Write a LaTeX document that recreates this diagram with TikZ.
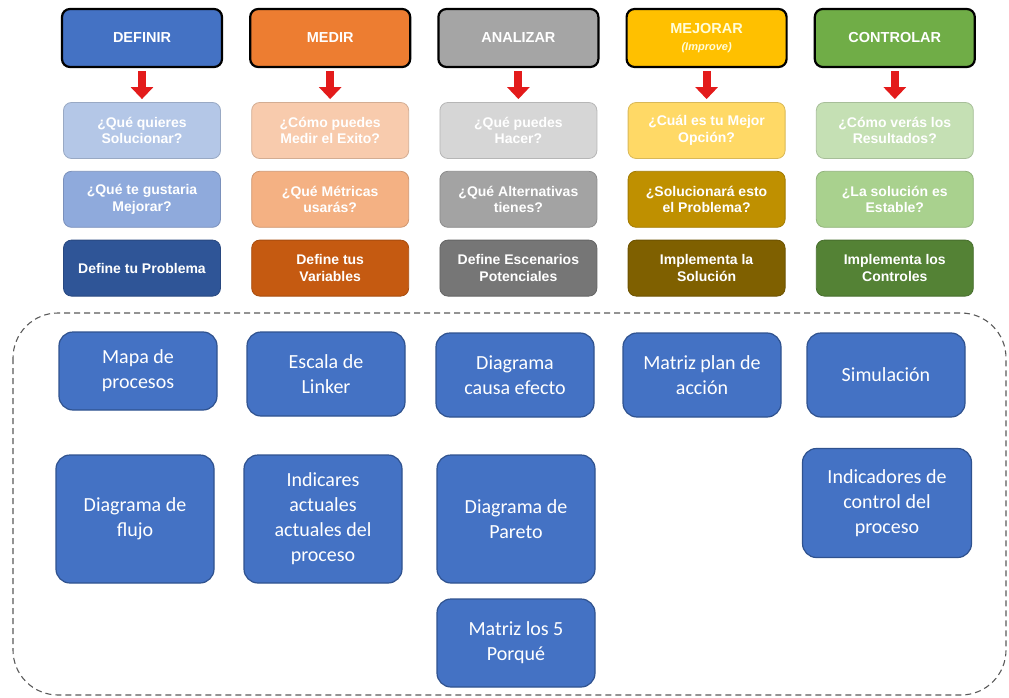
\documentclass[tikz,border=0pt]{standalone}
\usepackage{fontspec}
\setmainfont{Carlito}
\newfontfamily\arialfont{Liberation Sans}
\usetikzlibrary{arrows.meta, chains, positioning}

\definecolor{defblue}{HTML}{4472C4}
\definecolor{defq1}{HTML}{B4C7E7}
\definecolor{defq2}{HTML}{8FAADC}
\definecolor{defq3}{HTML}{2F5597}
\definecolor{medorange}{HTML}{ED7D31}
\definecolor{medq1}{HTML}{F8CBAD}
\definecolor{medq2}{HTML}{F4B183}
\definecolor{medq3}{HTML}{C55A11}
\definecolor{anagray}{HTML}{A5A5A5}
\definecolor{anaq1}{HTML}{D6D6D6}
\definecolor{anaq2}{HTML}{A3A3A3}
\definecolor{anaq3}{HTML}{767676}
\definecolor{mejgold}{HTML}{FFC000}
\definecolor{mejq1}{HTML}{FFD966}
\definecolor{mejq2}{HTML}{BF9000}
\definecolor{mejq3}{HTML}{7F6000}
\definecolor{congreen}{HTML}{70AD47}
\definecolor{conq1}{HTML}{C5E0B4}
\definecolor{conq2}{HTML}{A9D18E}
\definecolor{conq3}{HTML}{548235}
\definecolor{toolblue}{HTML}{4472C4}
\definecolor{tooledge}{HTML}{2F528F}
\definecolor{arrowred}{HTML}{E31B1B}

\tikzset{
  fase/.style = {draw=black, line width=2.2pt, rounded corners=8pt,
    minimum width=160pt, minimum height=58pt, inner sep=0pt,
    text=white, align=center,
    font=\arialfont\bfseries\fontsize{14.5}{18}\selectfont},
  pregunta/.style = {fill=#1, draw=#1!85!black, line width=0.8pt,
    rounded corners=8pt, minimum width=157pt, minimum height=56pt,
    inner sep=0pt, text=white, align=center,
    font=\arialfont\bfseries\fontsize{14}{16.5}\selectfont},
  flecha/.style = {draw=arrowred, line width=8pt,
    -{Triangle[width=22pt, length=12pt]},
    shorten <=3pt, shorten >=3pt},
  herramienta/.style = {fill=toolblue, draw=tooledge, line width=1.2pt,
    rounded corners=14pt, minimum width=158pt, minimum height=84pt,
    inner sep=0pt, text=white, align=center,
    font=\fontsize{20}{25}\selectfont},
  marco/.style = {draw=black!65, dash pattern=on 6pt off 4pt,
    line width=1.1pt, rounded corners=45pt}
}

\begin{document}
\begin{tikzpicture}[
   x=1pt, y=-1pt,
   start chain = going right,
   node distance = 26pt]
   \useasboundingbox (0,0) rectangle (1009,698);

   % fases
   \node[fase, fill=defblue, on chain] (definir) at (142,38) {DEFINIR};
   \node[fase, fill=medorange, on chain] (medir) {MEDIR};
   \node[fase, fill=anagray, on chain] (analizar) {ANALIZAR};
   \node[fase, fill=mejgold, text=white!85!yellow, on chain] (mejorar)
      {MEJORAR\\[-1pt]{\itshape\fontsize{11}{12}\selectfont(Improve)}};
   \node[fase, fill=congreen, on chain] (controlar) {CONTROLAR};

   % preguntas
   \node[pregunta=defq1, below=34pt of definir] (definir1) {¿Qué quieres\\Solucionar?};
   \node[pregunta=defq2, below=12pt of definir1] (definir2) {¿Qué te gustaria\\Mejorar?};
   \node[pregunta=defq3, below=12pt of definir2] (definir3) {Define tu Problema};

   \node[pregunta=medq1, below=34pt of medir] (medir1) {¿Cómo puedes\\Medir el Exito?};
   \node[pregunta=medq2, below=12pt of medir1] (medir2) {¿Qué Métricas\\usarás?};
   \node[pregunta=medq3, below=12pt of medir2] (medir3) {Define tus\\Variables};

   \node[pregunta=anaq1, below=34pt of analizar] (analizar1) {¿Qué puedes\\Hacer?};
   \node[pregunta=anaq2, below=12pt of analizar1] (analizar2) {¿Qué Alternativas\\tienes?};
   \node[pregunta=anaq3, below=12pt of analizar2] (analizar3) {Define Escenarios\\Potenciales};

   \node[pregunta=mejq1, below=34pt of mejorar] (mejorar1) {¿Cuál es tu Mejor\\Opción?};
   \node[pregunta=mejq2, below=12pt of mejorar1] (mejorar2) {¿Solucionará esto\\el Problema?};
   \node[pregunta=mejq3, below=12pt of mejorar2] (mejorar3) {Implementa la\\Solución};

   \node[pregunta=conq1, below=34pt of controlar] (controlar1) {¿Cómo verás los\\Resultados?};
   \node[pregunta=conq2, below=12pt of controlar1] (controlar2) {¿La solución es\\Estable?};
   \node[pregunta=conq3, below=12pt of controlar2] (controlar3) {Implementa los\\Controles};

   \draw[flecha] (definir) -- (definir1);
   \draw[flecha] (medir) -- (medir1);
   \draw[flecha] (analizar) -- (analizar1);
   \draw[flecha] (mejorar) -- (mejorar1);
   \draw[flecha] (controlar) -- (controlar1);

   % herramientas
   \draw[marco] (13,313) rectangle (1006,695);

   \node[herramienta, minimum height=78pt] (mapa) at (138,371) {Mapa de\\procesos};
   \node[herramienta] (escala) at (326,374) {Escala de\\Linker};
   \node[herramienta] (causa) at (515,375) {Diagrama\\causa efecto};
   \node[herramienta] (plan) at (702,375) {Matriz plan de\\acción};
   \node[herramienta] (simulacion) at (886,375) {Simulación};

   \node[herramienta, minimum height=128pt] (flujo) at (135,519) {Diagrama de\\flujo};
   \node[herramienta, minimum height=128pt] (indicares) at (323,519)
      {Indicares\\actuales\\actuales del\\proceso};
   \node[herramienta, minimum height=128pt] (pareto) at (516,519) {Diagrama de\\Pareto};
   \node[herramienta, minimum width=169pt, minimum height=109pt] (indicadores) at (887,503)
      {Indicadores de\\control del\\proceso};

   \node[herramienta, minimum height=88pt] (porque) at (516,643) {Matriz los 5\\Porqué};
\end{tikzpicture}
\end{document}
